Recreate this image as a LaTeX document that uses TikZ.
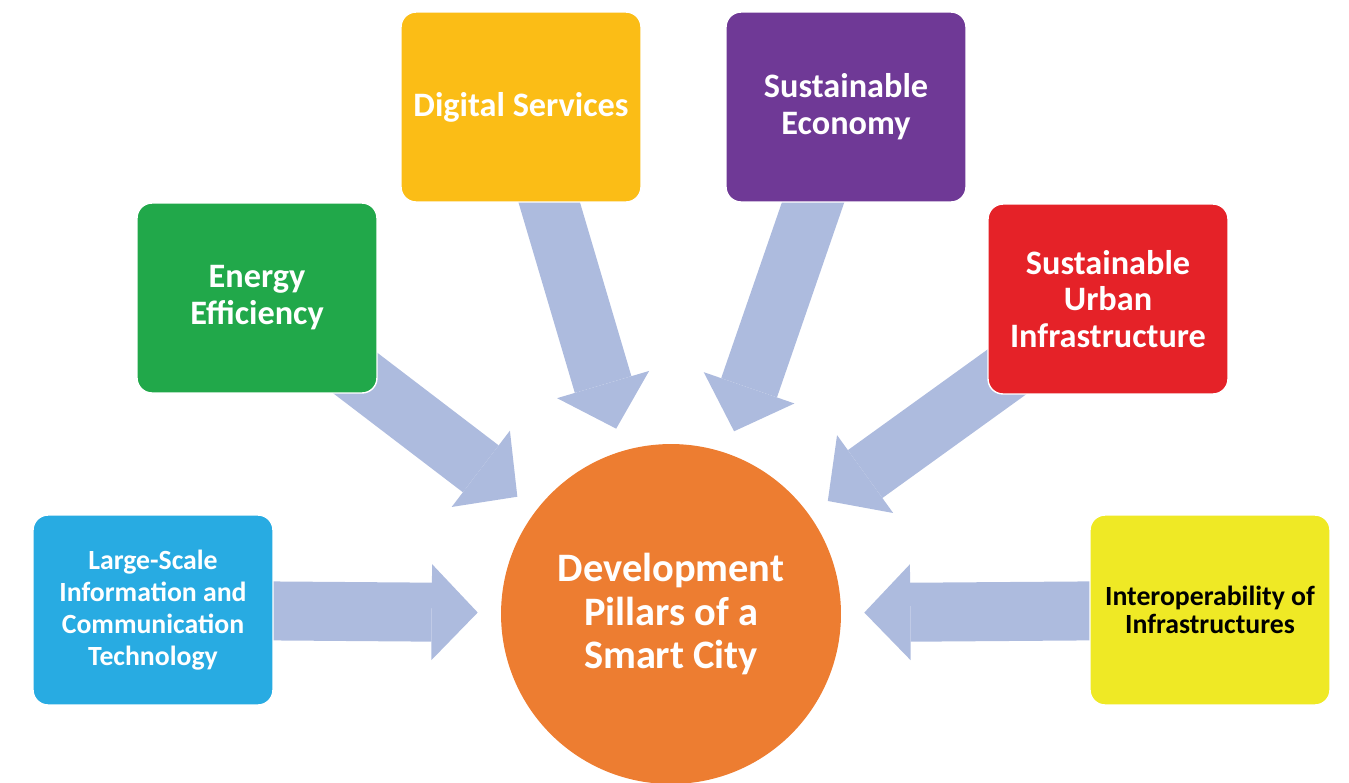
\documentclass[tikz,border=0pt]{standalone}
\usepackage{fontspec}
\setmainfont{Carlito}
\usetikzlibrary{arrows.meta}
\definecolor{digitalcol}{HTML}{FBBD16}
\definecolor{economycol}{HTML}{6F3996}
\definecolor{energycol}{HTML}{21A84A}
\definecolor{urbancol}{HTML}{E52228}
\definecolor{ictcol}{HTML}{28ABE2}
\definecolor{interopcol}{HTML}{EFE925}
\definecolor{hubcol}{HTML}{ED7D31}
\definecolor{feedcol}{HTML}{ADBBDE}
\pgfdeclarelayer{background}
\pgfsetlayers{background,main}
\tikzset{
  pillar/.style={rounded corners=0.3cm, minimum width=4.8cm, minimum height=3.8cm,
    align=center, text=white, draw=white, line width=0.8pt,
    font=\bfseries\fontsize{19.5}{21}\selectfont},
  hub/.style={circle, fill=hubcol, minimum size=6.8cm, align=center, text=white,
    font=\bfseries\fontsize{23}{25}\selectfont},
  feed/.style={draw=feedcol, line width=1.18cm,
    -{Triangle[length=0.92cm,width=1.92cm,line width=0pt]}, shorten >=0.46cm}
}
\begin{document}
\begin{tikzpicture}[x=0.02cm,y=-0.02cm]
\useasboundingbox (0,0) rectangle (1349,782);
\node[hub] (city) at (671,614) {Development\\Pillars of a\\Smart City};
\node[pillar, fill=digitalcol] (digital) at (521,107) {Digital Services};
\node[pillar, fill=economycol] (economy) at (846,107) {Sustainable\\Economy};
\node[pillar, fill=energycol] (energy) at (257,298) {Energy\\Efficiency};
\node[pillar, fill=urbancol] (urban) at (1108,299) {Sustainable\\Urban\\Infrastructure};
\node[pillar, fill=ictcol, font=\bfseries\fontsize{15.8}{18.2}\selectfont] (ict) at (153,610)
  {Large-Scale\\Information and\\Communication\\Technology};
\node[pillar, fill=interopcol, text=black, font=\bfseries\fontsize{15.8}{16}\selectfont] (interop) at (1210,610)
  {Interoperability of\\Infrastructures};
\begin{pgfonlayer}{background}
\draw[feed] (ict.center) -- (city);
\draw[feed] (energy.center) -- (city);
\draw[feed] (digital.center) -- (city);
\draw[feed] (economy.center) -- (city);
\draw[feed] (urban.center) -- (city);
\draw[feed] (interop.center) -- (city);
\end{pgfonlayer}
\end{tikzpicture}
\end{document}
